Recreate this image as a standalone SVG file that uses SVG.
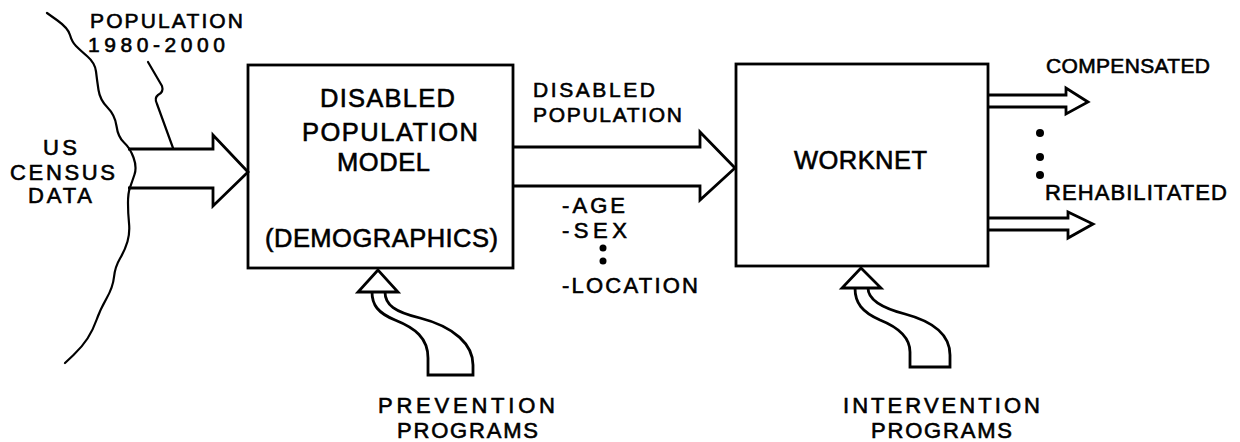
<svg xmlns="http://www.w3.org/2000/svg" width="1240" height="442" viewBox="0 0 1240 442">
<style>
  .ln{fill:none;stroke:#000;stroke-width:2.8;stroke-linejoin:miter;stroke-linecap:butt}
  .thin{fill:none;stroke:#000;stroke-width:2.2;stroke-linecap:round;stroke-linejoin:round}
  .box{fill:#fff;stroke:#000;stroke-width:2.8}
  text{font-family:"Liberation Sans",Arial,sans-serif;fill:#000;stroke:#000;stroke-width:0.6}
  .s20{font-size:21px}
  .s21{font-size:22px}
  .s25{font-size:25.5px}
  .dot{fill:#000}
</style>
<rect width="1240" height="442" fill="#fff"/>

<g id="census-source">
  <path class="thin" d="M47,13 L57.5,20.5 Q68,28 70,35 Q72,42 76,46 Q80,50 87.5,56.5 Q95,63 96,71.5 Q97,80 98.5,90 Q100,100 107.5,107.5 Q115,115 116.5,126 Q118,137 124,142.5 Q130,148 133.5,157.5 Q137,167 134.5,174.5 Q132,182 130,187.5 Q128,193 128,203 Q128,213 129,223 Q130,233 127.5,241.5 Q125,250 120,258.5 Q115,267 114,277 Q113,287 106.5,298.5 Q100,310 96.5,320 Q93,330 87.5,338.5 Q82,347 73.5,355 L65,363"/>
  <text class="s21" x="43" y="155" textLength="34" lengthAdjust="spacing">US</text>
  <text class="s21" x="10" y="180" textLength="105" lengthAdjust="spacing">CENSUS</text>
  <text class="s21" x="28" y="203" textLength="64" lengthAdjust="spacing">DATA</text>
</g>

<g id="population-label">
  <text class="s20" x="90" y="28" textLength="153" lengthAdjust="spacing">POPULATION</text>
  <text class="s20" x="88" y="52" textLength="137" lengthAdjust="spacing">1980-2000</text>
  <path class="thin" d="M148,62 L162,86 Q164,92 158,95 Q154,98 157,104 L173,148"/>
</g>

<g id="disabled-population-model">
  <rect class="box" x="248" y="65" width="265" height="203"/>
  <text class="s25" x="320" y="107" textLength="135" lengthAdjust="spacing">DISABLED</text>
  <text class="s25" x="302" y="141" textLength="176" lengthAdjust="spacing">POPULATION</text>
  <text class="s25" x="337" y="171" textLength="93" lengthAdjust="spacing">MODEL</text>
  <text class="s25" x="265" y="247" textLength="233" lengthAdjust="spacing">(DEMOGRAPHICS)</text>
</g>

<g id="worknet">
  <rect class="box" x="736" y="64" width="252" height="202"/>
  <text class="s25" x="794" y="169" textLength="133" lengthAdjust="spacing">WORKNET</text>
</g>

<g id="disabled-population-label">
  <text class="s20" x="533" y="97" textLength="122" lengthAdjust="spacing">DISABLED</text>
  <text class="s20" x="533" y="122" textLength="149" lengthAdjust="spacing">POPULATION</text>
  <text class="s21" x="562" y="213" textLength="63" lengthAdjust="spacing">-AGE</text>
  <text class="s21" x="562" y="238" textLength="65" lengthAdjust="spacing">-SEX</text>
  <circle class="dot" cx="603" cy="248" r="3.5"/>
  <circle class="dot" cx="603" cy="261" r="3.5"/>
  <text class="s21" x="562" y="293" textLength="136" lengthAdjust="spacing">-LOCATION</text>
</g>

<g id="outputs">
  <text class="s20" x="1046" y="73" textLength="164" lengthAdjust="spacing">COMPENSATED</text>
  <circle class="dot" cx="1040" cy="133" r="4"/>
  <circle class="dot" cx="1040" cy="157" r="4"/>
  <circle class="dot" cx="1040" cy="175" r="4"/>
  <text class="s21" x="1045" y="200" textLength="182" lengthAdjust="spacing">REHABILITATED</text>
</g>

<g id="prevention-programs">
  <text class="s21" x="378" y="413" textLength="177" lengthAdjust="spacing">PREVENTION</text>
  <text class="s21" x="397" y="438" textLength="141" lengthAdjust="spacing">PROGRAMS</text>
</g>

<g id="intervention-programs">
  <text class="s21" x="843" y="413" textLength="197" lengthAdjust="spacing">INTERVENTION</text>
  <text class="s21" x="871" y="438" textLength="141" lengthAdjust="spacing">PROGRAMS</text>
</g>

<g id="connectors">
  <path class="ln" d="M128,149 L213,149 L213,135 L248,172 L213,206 L213,188 L128,188"/>
  <path class="ln" d="M513,147 L700,147 L700,132 L735,168 L700,200 L700,186 L513,186"/>
  <path class="ln" d="M988,95 L1066,95 L1066,88 L1088,102 L1066,114 L1066,107 L988,107"/>
  <path class="ln" d="M988,218 L1068,218 L1068,212 L1093,224 L1068,238 L1068,230 L988,230"/>
  <path class="ln" d="M378,270 L358,292 L398,292 Z"/>
  <path class="ln" d="M372,292 C372,305 378,313 395,320 C415,328 428,338 428,358 L428,375 L473,375 L473,365 C473,345 455,327 420,318 C395,312 385,305 385,292"/>
  <path class="ln" d="M861,268 L842,288 L881,288 Z"/>
  <path class="ln" d="M855,288 C855,303 862,312 880,320 C900,328 910,338 910,352 L910,367 L950,367 L950,355 C950,335 935,322 905,314 C882,308 868,300 868,288"/>
</g>
</svg>
